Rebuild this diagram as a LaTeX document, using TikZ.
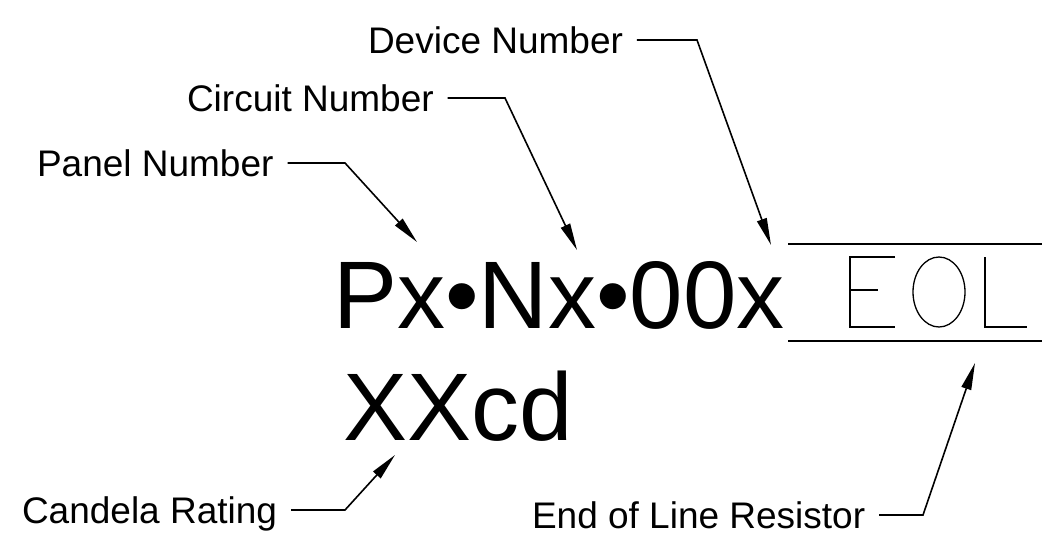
\documentclass[tikz,border=0pt]{standalone}
\usepackage{fontspec}
\setmainfont{Liberation Sans}
\usetikzlibrary{arrows.meta}

\begin{document}
\begin{tikzpicture}[%
x=1pt, y=-1pt,
lbl/.style={anchor=west, inner sep=0pt, outer xsep=14pt, text height=27pt, text depth=0pt, font=\fontsize{37}{40}\selectfont},
big/.style={anchor=base west, inner sep=0pt, font=\fontsize{96}{100}\selectfont},
leader/.style={line width=1.6pt, -{Triangle[length=27pt,width=10pt]}},
]
\useasboundingbox (0,0) rectangle (1042,539);
%% code text;
\node[big] (code) at (333,328) {Px•Nx•00x};
\node[big] (cd) at (343,440) {XXcd};
%% eol box;
\draw[line width=2pt] (788,244) -- (1042,244);
\draw[line width=2pt] (788,341) -- (1042,341);
\draw[line width=1.3pt] (895,257) -- (850,257) -- (850,327) -- (895,327);
\draw[line width=1.3pt] (850,290) -- (878,290);
\draw[line width=1.3pt] (939,292) ellipse (26 and 35);
\draw[line width=1.3pt] (985,257) -- (985,327) -- (1027,327);
%% arrow tips;
\coordinate (devtip) at (771,245);
\coordinate (cirtip) at (577,250);
\coordinate (pantip) at (417,242);
\coordinate (cantip) at (395,455);
\coordinate (eoltip) at (975,363);
%% labels;
\node[lbl] (dev) at (354,40) {Device Number};
\node[lbl] (cir) at (173,98) {Circuit Number};
\node[lbl] (pan) at (23,163) {Panel Number};
\node[lbl] (can) at (8,510) {Candela Rating};
\node[lbl] (res) at (518,515) {End of Line Resistor};
%% leaders;
\draw[leader] (dev.east) -- (697,40) -- (devtip);
\draw[leader] (cir.east) -- (505,98) -- (cirtip);
\draw[leader] (pan.east) -- (345,163) -- (pantip);
\draw[leader] (can.east) -- (345,510) -- (cantip);
\draw[leader] (res.east) -- (923,515) -- (eoltip);
\end{tikzpicture}
\end{document}
